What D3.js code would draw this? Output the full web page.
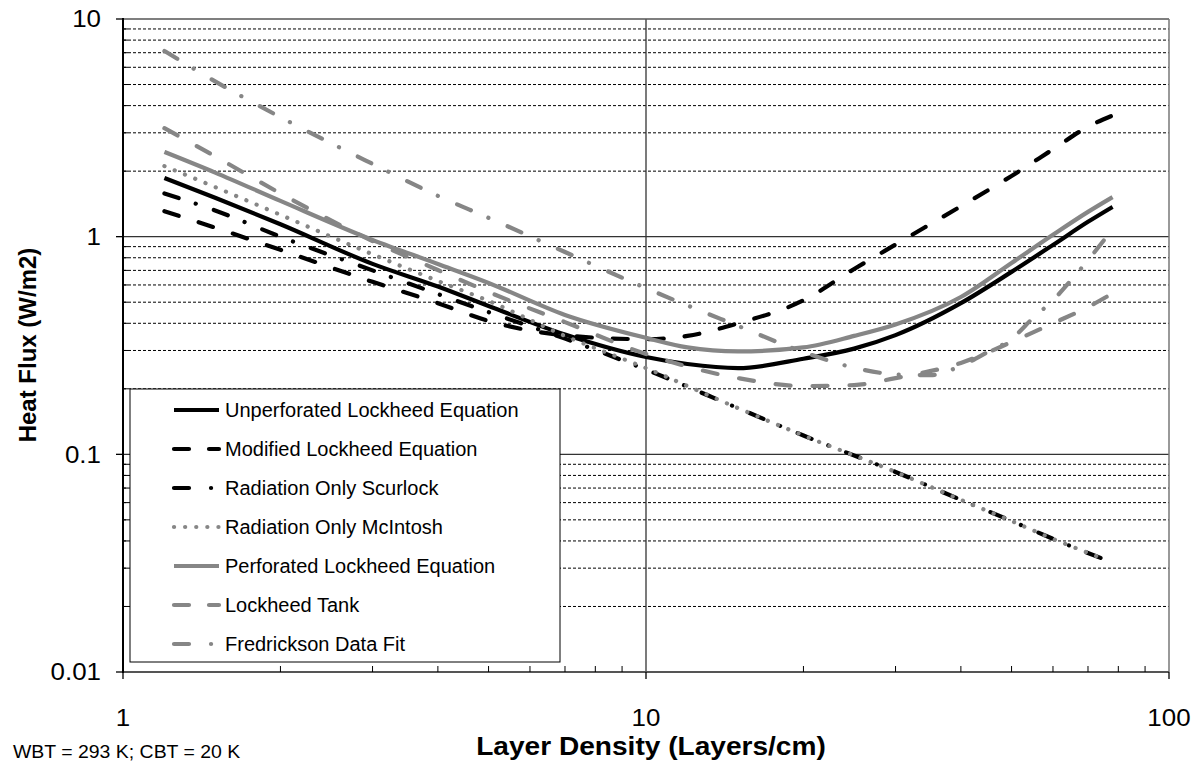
<!DOCTYPE html>
<html><head><meta charset="utf-8">
<script src="https://cdn.jsdelivr.net/npm/d3@7"></script>
<style>body{margin:0;background:#fff;} svg{display:block;font-family:Arial,"Liberation Sans",sans-serif;}</style>
</head><body><svg id="c" width="1199" height="765"></svg>
<script>
// ---- data (layer density in layers/cm, heat flux in W/m2) ----
const xTickLabels = ["1", "10", "100"];
const yTickLabels = ["0.01", "0.1", "1", "10"];

const unperfX = [1.2, 1.5, 2, 3, 4, 5, 7, 10, 12, 15, 20, 25, 30, 40, 50, 60, 70, 78];
const unperfY = [1.86, 1.51, 1.14, 0.75, 0.59, 0.48, 0.355, 0.28, 0.26, 0.249, 0.275, 0.306, 0.353, 0.495, 0.689, 0.916, 1.17, 1.37];

const modX = [1.2, 1.5, 2, 3, 4, 5, 7, 10, 12, 15, 20, 25, 30, 40, 50, 60, 70, 78];
const modY = [1.31, 1.10, 0.87, 0.62, 0.495, 0.41, 0.352, 0.338, 0.35, 0.40, 0.51, 0.71, 0.92, 1.38, 1.90, 2.52, 3.2, 3.6];

const scurX = [1.2, 1.5, 2, 3, 4, 5, 7, 10, 15, 20, 30, 40, 50, 60, 75];
const scurY = [1.58, 1.32, 1.0, 0.70, 0.545, 0.45, 0.34, 0.245, 0.163, 0.122, 0.083, 0.0618, 0.0494, 0.0409, 0.033];

const mcinX = [1.2, 1.5, 2, 3, 4, 5, 7, 10, 15, 20, 30, 40, 50, 60, 75];
const mcinY = [2.11, 1.69, 1.26, 0.83, 0.626, 0.507, 0.35, 0.249, 0.163, 0.122, 0.083, 0.0618, 0.0494, 0.0409, 0.0331];

const perfX = [1.2, 1.5, 2, 3, 4, 5, 7, 10, 12, 15, 20, 25, 30, 40, 50, 60, 70, 78];
const perfY = [2.45, 1.97, 1.46, 0.966, 0.749, 0.613, 0.437, 0.343, 0.31, 0.297, 0.31, 0.35, 0.395, 0.528, 0.757, 1.02, 1.30, 1.52];

const tankX = [1.2, 1.5, 2, 3, 4, 5, 7, 10, 15, 20, 25, 30, 40, 50, 60, 70, 76];
const tankY = [3.15, 2.34, 1.58, 0.955, 0.703, 0.557, 0.405, 0.289, 0.224, 0.206, 0.208, 0.224, 0.263, 0.328, 0.40, 0.475, 0.53];

const fredX = [1.2, 1.5, 2, 3, 4, 5, 7, 10, 15, 20, 25, 30, 35, 40, 45, 50, 55, 60, 65, 70, 76];
const fredY = [7.13, 5.17, 3.54, 2.16, 1.54, 1.22, 0.85, 0.58, 0.389, 0.295, 0.25, 0.233, 0.231, 0.255, 0.295, 0.339, 0.424, 0.51, 0.632, 0.78, 1.0];

const seriesNames = ["Unperforated Lockheed Equation", "Modified Lockheed Equation", "Radiation Only Scurlock",
  "Radiation Only McIntosh", "Perforated Lockheed Equation", "Lockheed Tank", "Fredrickson Data Fit"];

// ---- styles ----
const BLACK = "#000", GRAY = "#868686";
const styles = [
  {c: BLACK, dash: null, leg: null},
  {c: BLACK, dash: "15,21", leg: "15,20"},
  {c: BLACK, dash: "15,18,0.1,19", leg: "15,22,0.1,30"},
  {c: GRAY, dash: "0.1,11", leg: "0.1,11"},
  {c: GRAY, dash: null, leg: null},
  {c: GRAY, dash: "15,22", leg: "15,20"},
  {c: GRAY, dash: "15,19,0.1,21", leg: "15,22,0.1,30"}
];
const series = [
  [unperfX, unperfY], [modX, modY], [scurX, scurY], [mcinX, mcinY],
  [perfX, perfY], [tankX, tankY], [fredX, fredY]
];

const svg = d3.select("#c");
const L = 123, R = 1169, T = 19, B = 672;
const x = d3.scaleLog().domain([1, 100]).range([L, R]);
const y = d3.scaleLog().domain([0.01, 10]).range([B, T]);
const STRETCH = 1.08; // text in the reference is slightly wider than plain Arial

function widen(sel) {
  sel.each(function () {
    const w = this.getComputedTextLength();
    d3.select(this).attr("textLength", w * STRETCH).attr("lengthAdjust", "spacingAndGlyphs");
  });
}

// minor horizontal gridlines
const minors = [];
[0.01, 0.1, 1].forEach(d => { for (let k = 2; k <= 9; k++) minors.push(d * k); });
svg.append("g").selectAll("line").data(minors).join("line")
  .attr("x1", L).attr("x2", R).attr("y1", d => y(d)).attr("y2", d => y(d))
  .attr("stroke", "#000").attr("stroke-width", 1).attr("stroke-dasharray", "3,2");
// major horizontal gridlines
svg.append("g").selectAll("line").data([0.1, 1]).join("line")
  .attr("x1", L).attr("x2", R).attr("y1", d => y(d)).attr("y2", d => y(d))
  .attr("stroke", "#333").attr("stroke-width", 1.3);
// vertical gridline at 10
svg.append("line").attr("x1", x(10)).attr("x2", x(10)).attr("y1", T).attr("y2", B)
  .attr("stroke", "#333").attr("stroke-width", 1.3);

// series
const line = d3.line().x(d => x(d[0])).y(d => y(d[1])).curve(d3.curveMonotoneX);
series.forEach((s, i) => {
  const pts = s[0].map((v, j) => [v, s[1][j]]);
  svg.append("path").attr("d", line(pts)).attr("fill", "none")
    .attr("stroke", styles[i].c).attr("stroke-width", 4.2)
    .attr("stroke-linecap", styles[i].dash ? "round" : "butt")
    .attr("stroke-linejoin", "round")
    .attr("stroke-dasharray", styles[i].dash);
});

// legend
const lg = svg.append("g");
lg.append("rect").attr("x", 130).attr("y", 389).attr("width", 430).attr("height", 273)
  .attr("fill", "#fff").attr("stroke", "#000").attr("stroke-width", 1);
seriesNames.forEach((n, i) => {
  const cy = 410 + i * 39;
  lg.append("line").attr("x1", 174).attr("x2", 219).attr("y1", cy).attr("y2", cy)
    .attr("stroke", styles[i].c).attr("stroke-width", 4.2)
    .attr("stroke-linecap", styles[i].leg ? "round" : "butt")
    .attr("stroke-dasharray", styles[i].leg);
  lg.append("text").attr("x", 225).attr("y", cy).attr("dy", "0.35em")
    .attr("font-size", 20).attr("fill", "#000").text(n);
});

// frame
svg.append("line").attr("x1", L).attr("x2", R).attr("y1", T).attr("y2", T).attr("stroke", "#555").attr("stroke-width", 1.5);
svg.append("line").attr("x1", R).attr("x2", R).attr("y1", T).attr("y2", B).attr("stroke", "#777").attr("stroke-width", 1.5);
svg.append("line").attr("x1", L).attr("x2", R).attr("y1", B).attr("y2", B).attr("stroke", "#555").attr("stroke-width", 2);
svg.append("line").attr("x1", L).attr("x2", L).attr("y1", T - 1).attr("y2", B + 1).attr("stroke", "#000").attr("stroke-width", 2);

// y ticks
const yMaj = yTickLabels.map(Number);
svg.append("g").selectAll("line").data(yMaj).join("line")
  .attr("x1", L - 7).attr("x2", L).attr("y1", d => y(d)).attr("y2", d => y(d)).attr("stroke", "#000").attr("stroke-width", 1.3);
svg.append("g").selectAll("line").data(minors).join("line")
  .attr("x1", L).attr("x2", L + 5).attr("y1", d => y(d)).attr("y2", d => y(d)).attr("stroke", "#000").attr("stroke-width", 1);
svg.append("g").selectAll("text").data(yTickLabels).join("text")
  .attr("x", 101).attr("y", d => y(+d)).attr("dy", "0.35em").attr("text-anchor", "end")
  .attr("font-size", 24).text(d => d).call(widen);

// x ticks
const xMaj = xTickLabels.map(Number);
const xMin = [];
[1, 10].forEach(d => { for (let k = 2; k <= 9; k++) xMin.push(d * k); });
svg.append("g").selectAll("line").data(xMaj).join("line")
  .attr("x1", d => x(d)).attr("x2", d => x(d)).attr("y1", B).attr("y2", B + 7).attr("stroke", "#000").attr("stroke-width", 1.3);
svg.append("g").selectAll("line").data(xMin).join("line")
  .attr("x1", d => x(d)).attr("x2", d => x(d)).attr("y1", B - 6).attr("y2", B).attr("stroke", "#000").attr("stroke-width", 1);
svg.append("g").selectAll("text").data(xTickLabels).join("text")
  .attr("x", d => x(+d)).attr("y", 718).attr("dy", "0.35em").attr("text-anchor", "middle")
  .attr("font-size", 24).text(d => d).call(widen);

// titles
svg.append("text").attr("x", 651).attr("y", 746).attr("dy", "0.35em").attr("text-anchor", "middle")
  .attr("font-size", 26).attr("font-weight", "bold").text("Layer Density (Layers/cm)").call(widen);
svg.append("text").attr("transform", "translate(28,345) rotate(-90)").attr("dy", "0.35em")
  .attr("text-anchor", "middle").attr("font-size", 24).attr("font-weight", "bold").text("Heat Flux (W/m2)");
svg.append("text").attr("x", 13).attr("y", 752).attr("dy", "0.35em").attr("font-size", 18)
  .text("WBT = 293 K; CBT = 20 K").call(widen);
</script></body></html>
